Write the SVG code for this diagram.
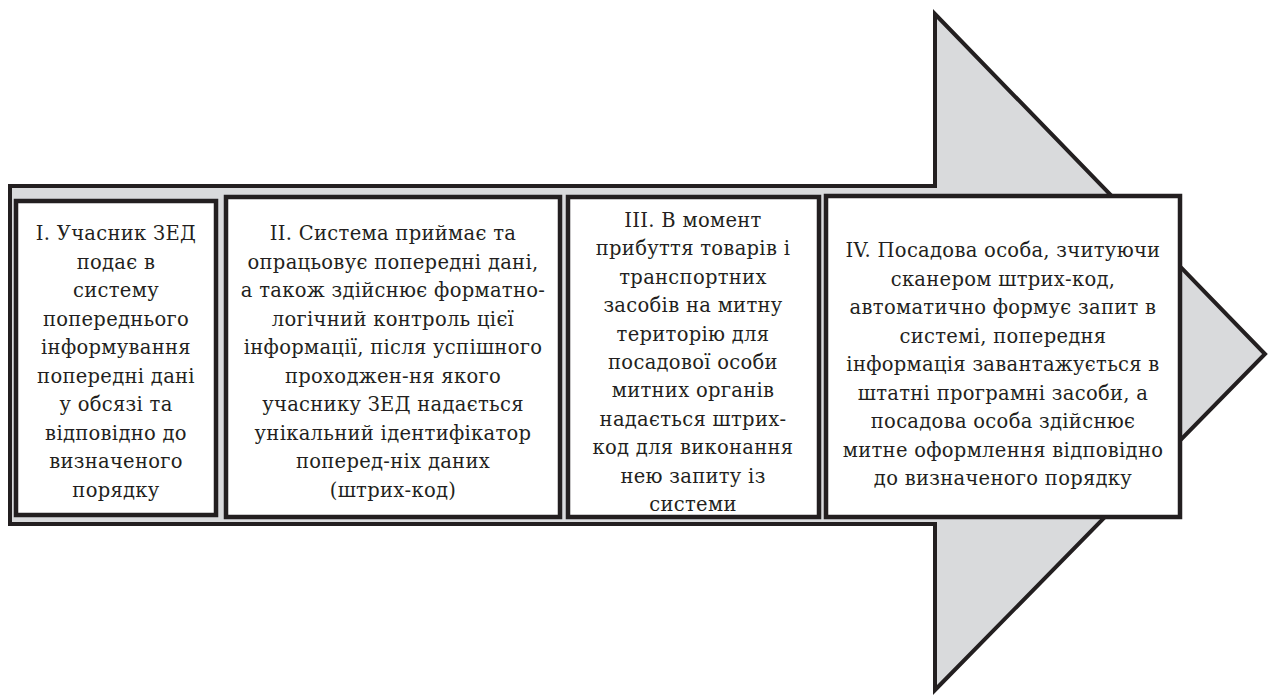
<svg xmlns="http://www.w3.org/2000/svg" width="1269" height="695" viewBox="0 0 1269 695">
<style>
.arrow{fill:#d9dadc;stroke:#231f20;stroke-width:4;stroke-linejoin:miter}
.box{fill:#ffffff;stroke:#231f20;stroke-width:4.5}
.t{font-family:'DejaVu Serif','Liberation Serif',serif;font-size:19.5px;letter-spacing:0.3px;fill:#231f20;text-anchor:middle}
</style>
<rect width="1269" height="695" fill="#ffffff"/>
<g id="connectors">
<polygon id="arrow" class="arrow" points="10,186 935,186 935,14 1265,354 935,690 935,524 10,524"/>
</g>
<g id="node1">
<rect class="box" x="16" y="201" width="200" height="314"/>
<text class="t" x="116"><tspan x="116" y="240">І. Учасник ЗЕД</tspan><tspan x="116" y="268.5">подає в</tspan><tspan x="116" y="297">систему</tspan><tspan x="116" y="325.5">попереднього</tspan><tspan x="116" y="354">інформування</tspan><tspan x="116" y="382.5">попередні дані</tspan><tspan x="116" y="411">у обсязі та</tspan><tspan x="116" y="439.5">відповідно до</tspan><tspan x="116" y="468">визначеного</tspan><tspan x="116" y="496.5">порядку</tspan></text>
</g>
<g id="node2">
<rect class="box" x="226" y="197" width="334" height="320"/>
<text class="t" x="393"><tspan x="393" y="240">ІІ. Система приймає та</tspan><tspan x="393" y="268.5">опрацьовує попередні дані,</tspan><tspan x="393" y="297">а також здійснює форматно-</tspan><tspan x="393" y="325.5">логічний контроль цієї</tspan><tspan x="393" y="354">інформації, після успішного</tspan><tspan x="393" y="382.5">проходжен-ня якого</tspan><tspan x="393" y="411">учаснику ЗЕД надається</tspan><tspan x="393" y="439.5">унікальний ідентифікатор</tspan><tspan x="393" y="468">поперед-ніх даних</tspan><tspan x="393" y="496.5">(штрих-код)</tspan></text>
</g>
<g id="node3">
<rect class="box" x="568" y="197" width="251" height="320"/>
<text class="t" x="693"><tspan x="693" y="227">ІІІ. В момент</tspan><tspan x="693" y="255.4">прибуття товарів і</tspan><tspan x="693" y="283.8">транспортних</tspan><tspan x="693" y="312.2">засобів на митну</tspan><tspan x="693" y="340.6">територію для</tspan><tspan x="693" y="369">посадової особи</tspan><tspan x="693" y="397.4">митних органів</tspan><tspan x="693" y="425.8">надається штрих-</tspan><tspan x="693" y="454.2">код для виконання</tspan><tspan x="693" y="482.6">нею запиту із</tspan><tspan x="693" y="511">системи</tspan></text>
</g>
<g id="node4">
<rect class="box" x="826" y="196" width="354" height="321"/>
<text class="t" x="1003"><tspan x="1003" y="257">ІV. Посадова особа, зчитуючи</tspan><tspan x="1003" y="285.5">сканером штрих-код,</tspan><tspan x="1003" y="314">автоматично формує запит в</tspan><tspan x="1003" y="342.5">системі, попередня</tspan><tspan x="1003" y="371">інформація завантажується в</tspan><tspan x="1003" y="399.5">штатні програмні засоби, а</tspan><tspan x="1003" y="428">посадова особа здійснює</tspan><tspan x="1003" y="456.5">митне оформлення відповідно</tspan><tspan x="1003" y="485">до визначеного порядку</tspan></text>
</g>
</svg>
